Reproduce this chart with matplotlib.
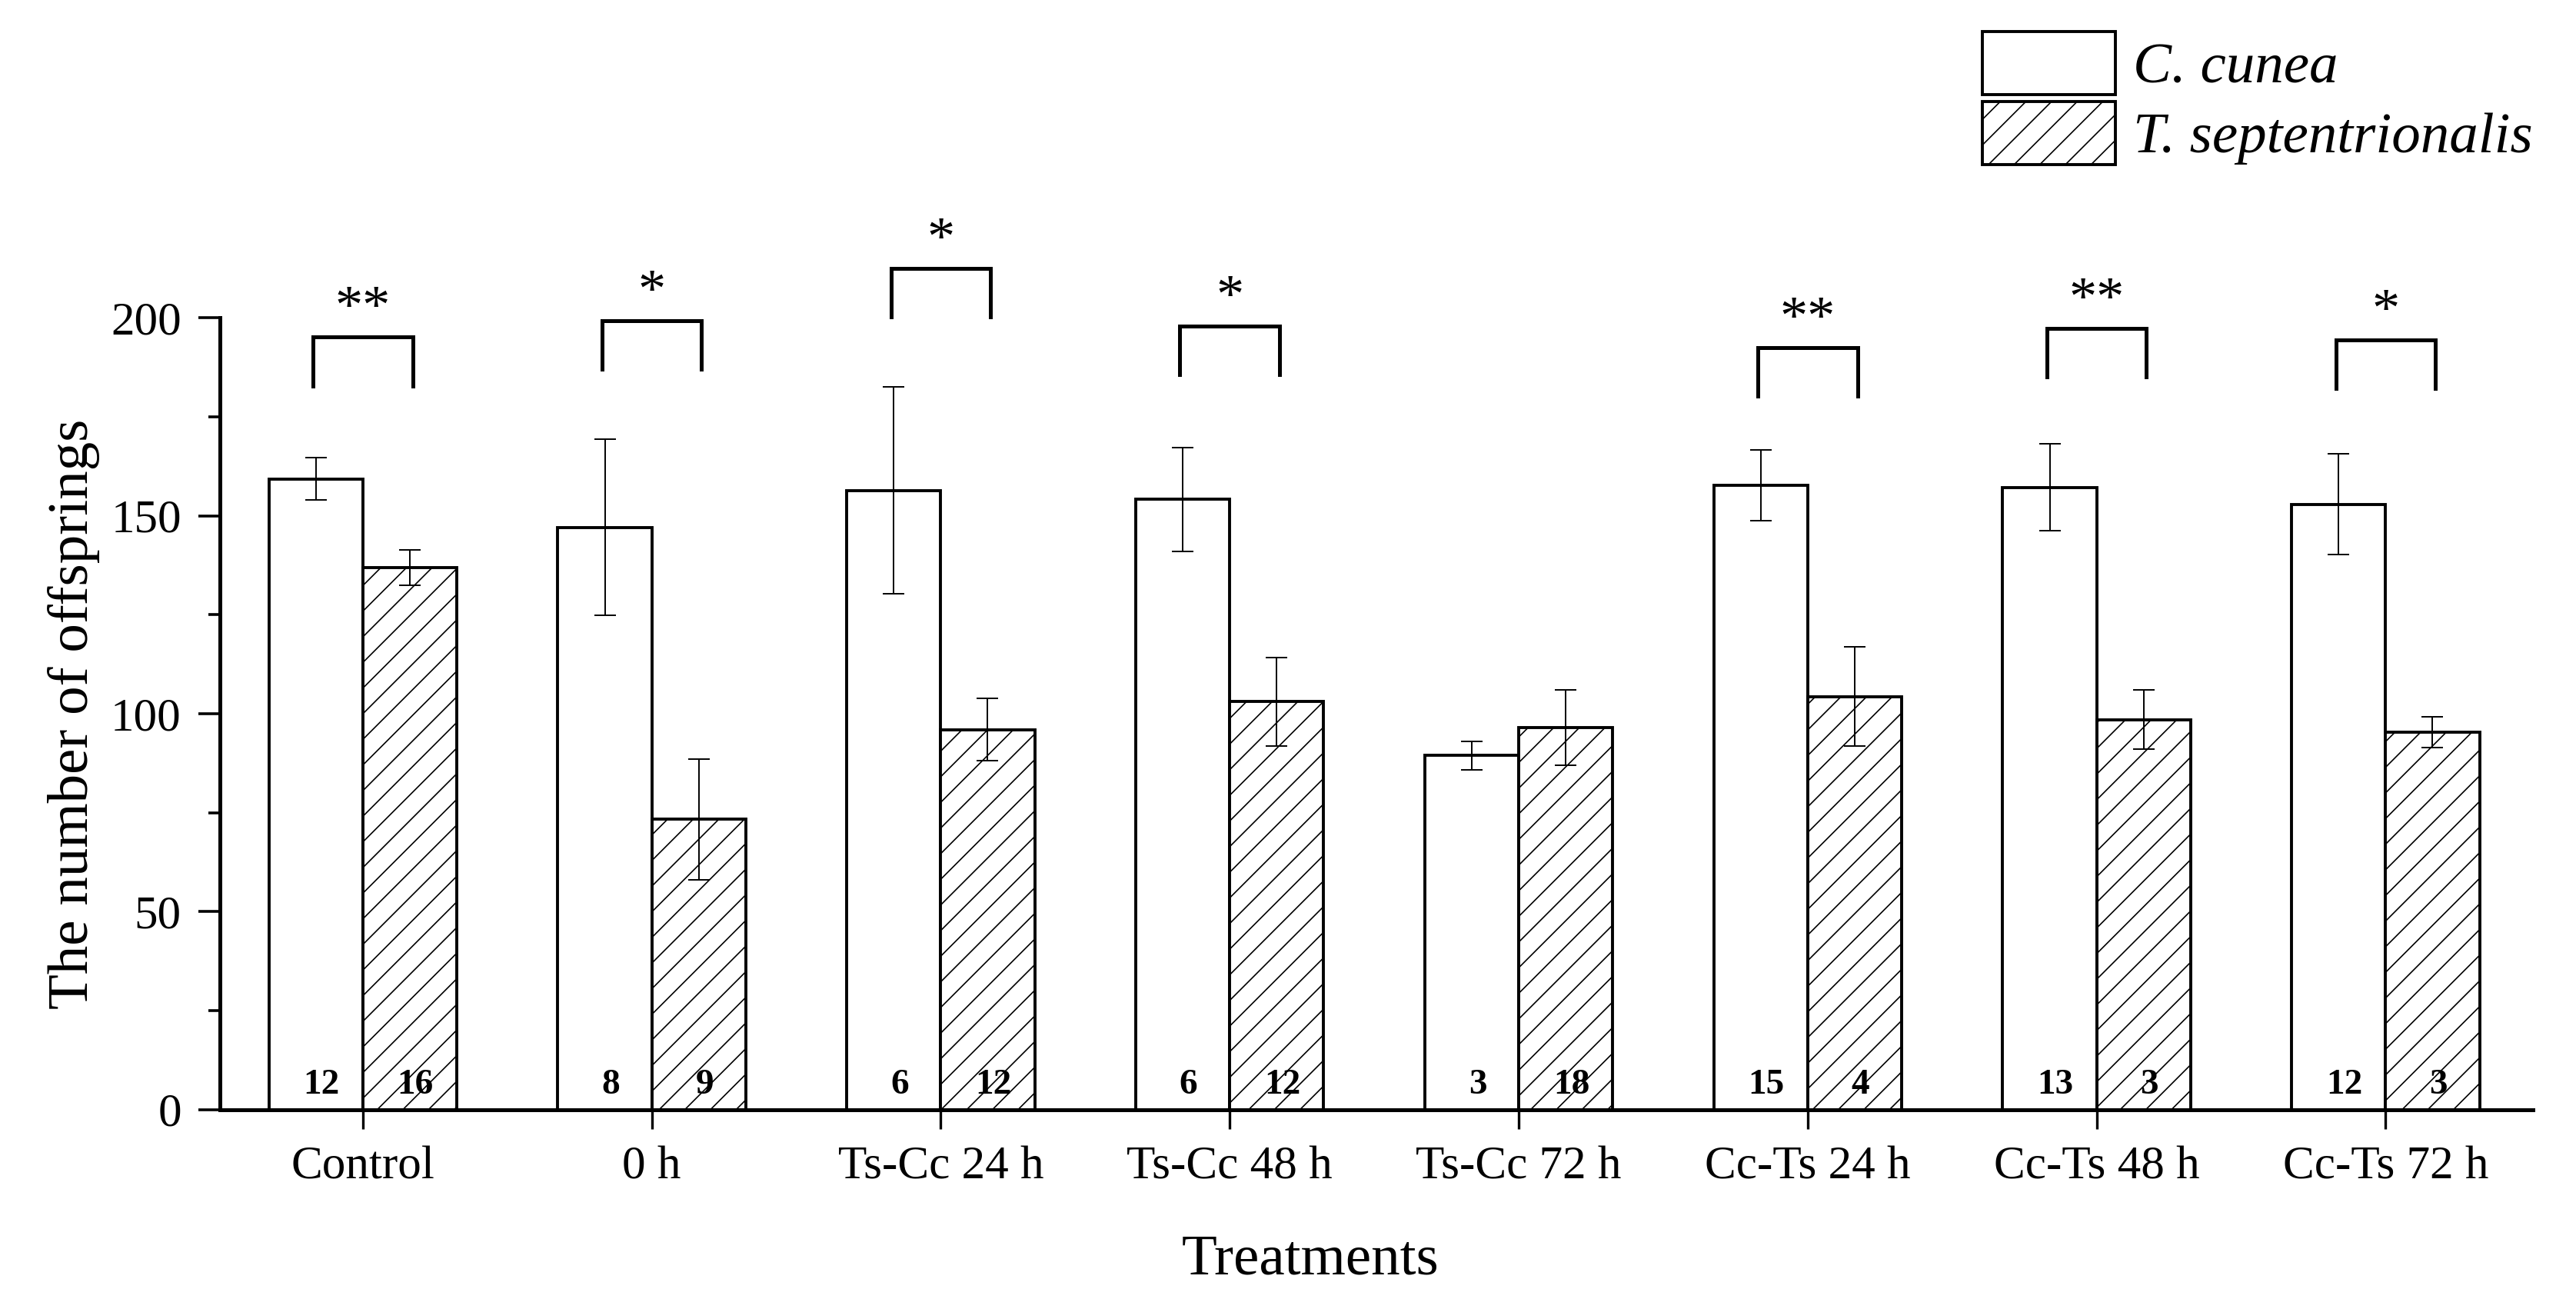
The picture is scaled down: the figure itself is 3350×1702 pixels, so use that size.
import matplotlib
matplotlib.use("Agg")
import matplotlib.pyplot as plt
from matplotlib.patches import Patch
import numpy as np

categories = ["Control", "0 h", "Ts-Cc 24 h", "Ts-Cc 48 h", "Ts-Cc 72 h",
              "Cc-Ts 24 h", "Cc-Ts 48 h", "Cc-Ts 72 h"]
cunea_mean = [159.3, 147.1, 156.4, 154.1, 89.4, 157.7, 157.2, 152.9]
cunea_err = [5.3, 22.2, 26.1, 13.2, 3.6, 9.0, 11.0, 12.7]
sept_mean = [136.9, 73.3, 96.0, 103.0, 96.5, 104.3, 98.5, 95.3]
sept_err = [4.5, 15.2, 7.9, 11.2, 9.6, 12.5, 7.5, 3.9]
cunea_n = ["12", "8", "6", "6", "3", "15", "13", "12"]
sept_n = ["16", "9", "12", "12", "18", "4", "3", "3"]
sig_labels = ["**", "*", "*", "*", "", "**", "**", "*"]
bracket_top = [195.1, 199.3, 212.5, 197.9, None, 192.5, 197.3, 194.4]
legend_labels = ["C. cunea", "T. septentrionalis"]

plt.rcParams['font.family'] = ['Liberation Serif', 'DejaVu Serif']
plt.rcParams['hatch.linewidth'] = 0.6
plt.rcParams['hatch.color'] = 'black'

fig = plt.figure(figsize=(16.75, 8.51), dpi=200)
ax = fig.add_axes([0.0853, 0.1524, 0.898, 0.6048])

x = np.arange(len(categories))
w = 0.325
ax.bar(x - w / 2, cunea_mean, width=w, facecolor='white', edgecolor='black',
       linewidth=1.4, zorder=2)
ax.bar(x + w / 2, sept_mean, width=w, facecolor='white', edgecolor='black',
       linewidth=1.4, hatch='//', zorder=2)
ax.errorbar(x - w / 2, cunea_mean, yerr=cunea_err, fmt='none', ecolor='black',
            elinewidth=0.7, capsize=5.2, capthick=0.7, zorder=3)
ax.errorbar(x + w / 2, sept_mean, yerr=sept_err, fmt='none', ecolor='black',
            elinewidth=0.7, capsize=5.2, capthick=0.7, zorder=3)

for i in range(len(categories)):
    ax.text(x[i] - w / 2 + 0.02, 2.0, cunea_n[i], ha='center', va='bottom',
            fontsize=17, fontweight='bold', zorder=4)
    ax.text(x[i] + w / 2 + 0.02, 2.0, sept_n[i], ha='center', va='bottom',
            fontsize=17, fontweight='bold', zorder=4)
    if sig_labels[i]:
        top = bracket_top[i]
        xl = x[i] - w / 2 - 0.01
        xr = x[i] + w / 2 + 0.01
        ax.plot([xl, xl, xr, xr], [top - 12.3, top, top, top - 12.3],
                color='black', linewidth=1.8, clip_on=False,
                solid_joinstyle='miter', zorder=4)
        ax.text(x[i], top + 3.5, sig_labels[i], ha='center', va='baseline',
                fontsize=26, clip_on=False)

ax.set_xlim(-0.495, 7.51)
ax.set_ylim(0, 200)
ax.set_xticks(x)
ax.set_xticklabels(categories, fontsize=22)
ax.set_yticks([0, 50, 100, 150, 200])
ax.set_yticks([25, 75, 125, 175], minor=True)
ax.tick_params(axis='y', which='major', direction='out', length=10, width=1.3,
               labelsize=22, pad=8)
ax.tick_params(axis='y', which='minor', direction='out', length=5.4, width=1.3)
ax.tick_params(axis='x', which='major', direction='out', length=9, width=1.2,
               labelsize=22, pad=8)
for s in ['top', 'right']:
    ax.spines[s].set_visible(False)
for s in ['left', 'bottom']:
    ax.spines[s].set_linewidth(1.8)

ax.set_ylabel("The number of offsprings", fontsize=27, labelpad=5)
ax.set_xlabel("Treatments", fontsize=27)
ax.xaxis.set_label_coords(0.4714, -0.158)

handles = [Patch(facecolor='white', edgecolor='black', linewidth=1.4),
           Patch(facecolor='white', edgecolor='black', linewidth=1.4, hatch='//')]
leg = fig.legend(handles, legend_labels, loc='upper left',
                 bbox_to_anchor=(2537 / 3350, 1 - 0 / 1702),
                 frameon=False, prop={'family': 'Liberation Serif', 'style': 'italic', 'size': 27},
                 handlelength=2.3, handleheight=1.3, labelspacing=0.12,
                 handletextpad=0.31, borderpad=0.05)

fig.savefig("out.png", dpi=200)
